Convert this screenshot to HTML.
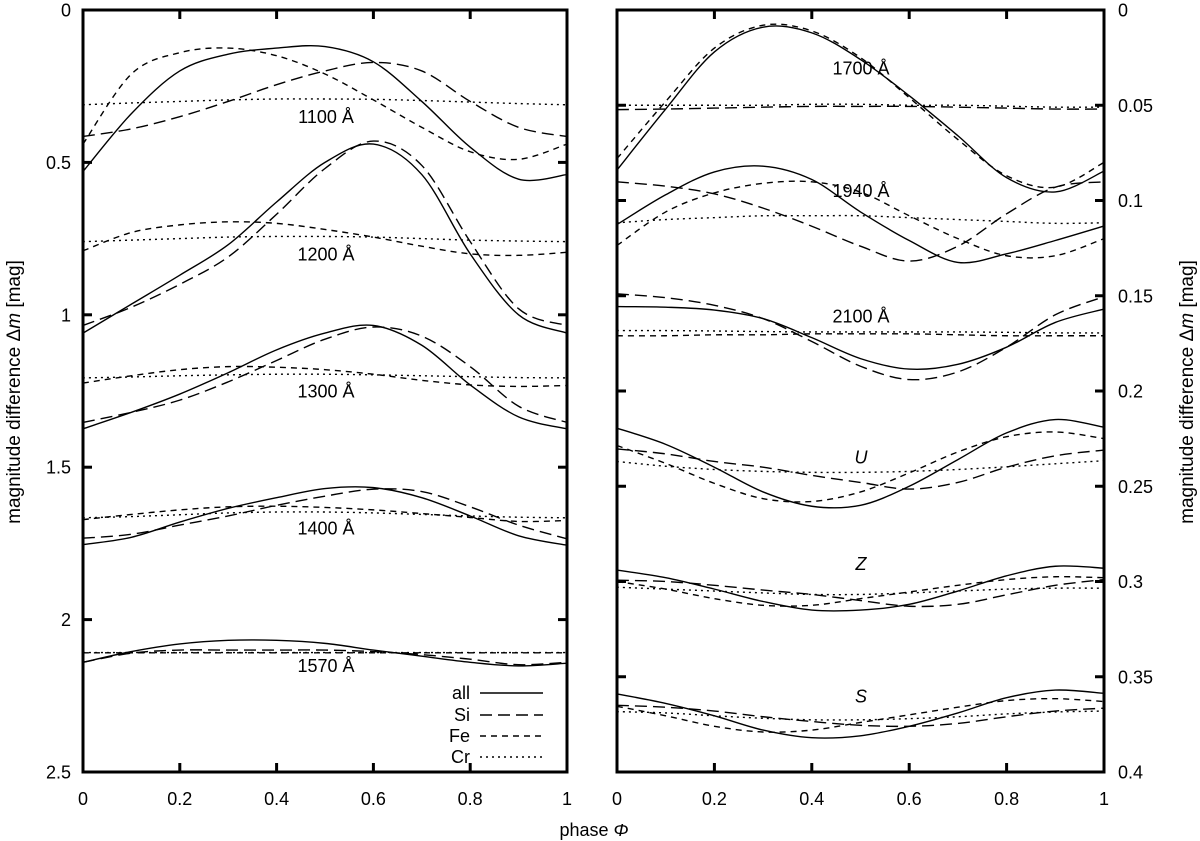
<!DOCTYPE html>
<html><head><meta charset="utf-8">
<style>
html,body{margin:0;padding:0;background:#fff;}
svg{display:block;font-family:"Liberation Sans",sans-serif;}
</style></head>
<body>
<svg id="chart" width="1200" height="841" viewBox="0 0 1200 841" xmlns="http://www.w3.org/2000/svg"></svg>
<script>
const phases = [0,0.1,0.2,0.3,0.4,0.5,0.6,0.7,0.8,0.9,1];
const leftTicks = [0,0.5,1,1.5,2,2.5];
const leftTickLabels = ["0","0.5","1","1.5","2","2.5"];
const rightTicks = [0,0.05,0.1,0.15,0.2,0.25,0.3,0.35,0.4];
const rightTickLabels = ["0","0.05","0.1","0.15","0.2","0.25","0.3","0.35","0.4"];
const xTicks = [0,0.2,0.4,0.6,0.8,1];
const xTickLabels = ["0","0.2","0.4","0.6","0.8","1"];
const componentNames = ["all","Si","Fe","Cr"];

const leftBands = ["1100 Å","1200 Å","1300 Å","1400 Å","1570 Å"];
const leftBandLabelValues = [0.35,0.8,1.25,1.7,2.15];
const left1100 = [
 [0.53,0.34,0.2,0.145,0.125,0.12,0.17,0.3,0.45,0.555,0.54],
 [0.415,0.39,0.35,0.3,0.245,0.2,0.172,0.2,0.3,0.385,0.415],
 [0.44,0.21,0.14,0.125,0.15,0.21,0.295,0.385,0.465,0.49,0.44],
 [0.311,0.305,0.3,0.295,0.292,0.292,0.293,0.297,0.302,0.307,0.311]];
const left1200 = [
 [1.06,0.965,0.87,0.77,0.63,0.5,0.44,0.54,0.8,1.0,1.06],
 [1.035,0.975,0.9,0.81,0.67,0.52,0.43,0.51,0.76,0.98,1.035],
 [0.79,0.73,0.705,0.695,0.7,0.72,0.745,0.775,0.8,0.805,0.795],
 [0.76,0.755,0.75,0.745,0.743,0.743,0.745,0.75,0.755,0.758,0.76]];
const left1300 = [
 [1.374,1.32,1.26,1.19,1.115,1.06,1.035,1.1,1.23,1.335,1.374],
 [1.353,1.32,1.28,1.22,1.15,1.08,1.04,1.07,1.17,1.3,1.353],
 [1.224,1.2,1.18,1.17,1.172,1.18,1.195,1.215,1.23,1.235,1.232],
 [1.207,1.204,1.2,1.197,1.195,1.195,1.197,1.2,1.203,1.206,1.207]];
const left1400 = [
 [1.754,1.73,1.68,1.635,1.6,1.57,1.567,1.6,1.66,1.725,1.756],
 [1.733,1.72,1.69,1.66,1.625,1.595,1.572,1.58,1.63,1.69,1.735],
 [1.672,1.655,1.64,1.63,1.628,1.632,1.64,1.652,1.665,1.678,1.675],
 [1.666,1.662,1.656,1.65,1.647,1.647,1.65,1.655,1.66,1.664,1.666]];
const left1570 = [
 [2.14,2.105,2.08,2.068,2.068,2.078,2.1,2.12,2.14,2.152,2.143],
 [2.14,2.11,2.1,2.1,2.1,2.1,2.105,2.115,2.13,2.148,2.14],
 [2.109,2.109,2.109,2.109,2.109,2.109,2.109,2.109,2.109,2.109,2.109],
 [2.108,2.108,2.108,2.108,2.108,2.108,2.108,2.108,2.108,2.108,2.108]];

const rightBands = ["1700 Å","1940 Å","2100 Å","U","Z","S"];
const rightBandLabelValues = [0.0304,0.0948,0.1607,0.2346,0.2906,0.3602];
const right1700 = [
 [0.084,0.052,0.022,0.009,0.012,0.026,0.045,0.066,0.088,0.0955,0.0846],
 [0.0523,0.052,0.0515,0.051,0.0506,0.0506,0.0506,0.051,0.0515,0.052,0.052],
 [0.078,0.048,0.02,0.008,0.011,0.025,0.046,0.068,0.087,0.093,0.080],
 [0.050,0.050,0.050,0.050,0.0495,0.0495,0.050,0.050,0.0505,0.051,0.051]];
const right1940 = [
 [0.1126,0.097,0.085,0.082,0.089,0.106,0.121,0.1325,0.128,0.121,0.1134],
 [0.0902,0.0925,0.0965,0.104,0.1135,0.124,0.1318,0.124,0.107,0.093,0.0902],
 [0.1236,0.106,0.096,0.091,0.0902,0.0956,0.108,0.12,0.129,0.129,0.12],
 [0.1117,0.110,0.109,0.108,0.108,0.108,0.109,0.110,0.111,0.112,0.1117]];
const right2100 = [
 [0.1557,0.156,0.1575,0.162,0.172,0.183,0.1885,0.186,0.177,0.164,0.157],
 [0.149,0.151,0.155,0.162,0.174,0.187,0.194,0.19,0.177,0.16,0.1505],
 [0.171,0.171,0.1705,0.1705,0.170,0.170,0.170,0.1705,0.171,0.171,0.171],
 [0.1683,0.1683,0.1685,0.1688,0.169,0.169,0.169,0.169,0.1692,0.1695,0.1695]];
const rightU = [
 [0.2195,0.228,0.240,0.253,0.2605,0.26,0.25,0.236,0.222,0.215,0.219],
 [0.2304,0.233,0.237,0.24,0.2443,0.248,0.2515,0.248,0.24,0.234,0.231],
 [0.2286,0.238,0.2485,0.2565,0.258,0.253,0.243,0.232,0.224,0.2215,0.225],
 [0.237,0.2395,0.2412,0.2422,0.2427,0.2427,0.2422,0.2412,0.2398,0.2382,0.2366]];
const rightZ = [
 [0.294,0.298,0.304,0.3105,0.315,0.315,0.312,0.305,0.297,0.292,0.293],
 [0.2993,0.3,0.302,0.3045,0.3068,0.31,0.313,0.312,0.307,0.302,0.299],
 [0.3,0.304,0.309,0.3125,0.3125,0.309,0.3055,0.302,0.299,0.2975,0.298],
 [0.303,0.304,0.305,0.306,0.3068,0.3068,0.306,0.305,0.304,0.3035,0.3035]];
const rightS = [
 [0.359,0.364,0.3705,0.378,0.382,0.381,0.376,0.369,0.361,0.357,0.3587],
 [0.365,0.366,0.368,0.371,0.3735,0.3755,0.376,0.3745,0.371,0.368,0.3665],
 [0.3655,0.3705,0.376,0.379,0.378,0.374,0.370,0.366,0.3625,0.3615,0.363],
 [0.3683,0.369,0.3705,0.3718,0.3726,0.3726,0.372,0.371,0.3695,0.3685,0.368]];

const leftData = [left1100,left1200,left1300,left1400,left1570];
const rightData = [right1700,right1940,right2100,rightU,rightZ,rightS];

const NS = "http://www.w3.org/2000/svg";
const svg = document.getElementById('chart');
const TOP = 10, BOT = 772;
const FS = 18;
const dashes = ["", "12,6", "6,5", "2,4"];
function mk(tag, attrs, parent){ const e=document.createElementNS(NS,tag); for(const k in attrs) e.setAttribute(k,attrs[k]); (parent||svg).appendChild(e); return e; }

function panel(x0,x1,ymax,name){
  const g = mk('g',{});
  
  
  return {g, x:p=>x0+p*(x1-x0), y:v=>TOP+v/ymax*(BOT-TOP), x0, x1};
}
function smooth(pts){
  let d = "M"+pts[0][0].toFixed(2)+","+pts[0][1].toFixed(2);
  for(let i=0;i<pts.length-1;i++){
    const p0=pts[Math.max(i-1,0)], p1=pts[i], p2=pts[i+1], p3=pts[Math.min(i+2,pts.length-1)];
    const c1=[p1[0]+(p2[0]-p0[0])/6, p1[1]+(p2[1]-p0[1])/6];
    const c2=[p2[0]-(p3[0]-p1[0])/6, p2[1]-(p3[1]-p1[1])/6];
    d += " C"+c1[0].toFixed(2)+","+c1[1].toFixed(2)+" "+c2[0].toFixed(2)+","+c2[1].toFixed(2)+" "+p2[0].toFixed(2)+","+p2[1].toFixed(2);
  }
  return d;
}
function drawPanel(P, data, bands, labelVals, labelX){
  data.forEach((band,bi)=>{
    band.forEach((series,si)=>{
      const pts = series.map((v,i)=>[P.x(phases[i]), P.y(v)]);
      const path = mk('path',{d:smooth(pts), fill:'none', stroke:'#000', 'stroke-width':1.4, 'stroke-dasharray':dashes[si]}, P.g);
      
      
    });
    const isFilter = bands[bi].length===1;
    const t = mk('text',{x:labelX, y:P.y(labelVals[bi])+6.5, 'font-size':FS, 'text-anchor':'middle', 'font-style': isFilter?'italic':'normal'}, P.g);
    t.textContent = bands[bi];
    
    
  });
}
function frame(P, ticks){
  mk('rect',{x:P.x0, y:TOP, width:P.x1-P.x0, height:BOT-TOP, fill:'none', stroke:'#000', 'stroke-width':3}, P.g);
  ticks.forEach(v=>{
    const y=P.y(v);
    mk('line',{x1:P.x0, x2:P.x0+9, y1:y, y2:y, stroke:'#000','stroke-width':3}, P.g);
    mk('line',{x1:P.x1-9, x2:P.x1, y1:y, y2:y, stroke:'#000','stroke-width':3}, P.g);
  });
  xTicks.forEach((p,i)=>{
    const x=P.x(p);
    mk('line',{x1:x,x2:x,y1:TOP,y2:TOP+9,stroke:'#000','stroke-width':3},P.g);
    mk('line',{x1:x,x2:x,y1:BOT-9,y2:BOT,stroke:'#000','stroke-width':3},P.g);
    const t=mk('text',{x:x,y:BOT+33,'font-size':FS,'text-anchor':'middle'},P.g);
    t.textContent=xTickLabels[i];
    
    
  });
}

const L = panel(83,567,2.5,'left-panel');
drawPanel(L, leftData, leftBands, leftBandLabelValues, 326);
frame(L, leftTicks);
leftTicks.forEach((v,i)=>{
  const t=mk('text',{x:L.x0-12,y:L.y(v)+6.5,'font-size':FS,'text-anchor':'end'},L.g);
  t.textContent=leftTickLabels[i];
  
  
});

const R = panel(617,1104,0.4,'right-panel');
drawPanel(R, rightData, rightBands, rightBandLabelValues, 861);
frame(R, rightTicks);
rightTicks.forEach((v,i)=>{
  const t=mk('text',{x:R.x1+14,y:R.y(v)+6.5,'font-size':FS,'text-anchor':'start'},R.g);
  t.textContent=rightTickLabels[i];
  
  
});

// legend
const lg = mk('g',{});


const legendY = [693,715,736,757];
componentNames.forEach((n,i)=>{
  const t=mk('text',{x:470,y:legendY[i]+6,'font-size':FS,'text-anchor':'end'},lg);
  t.textContent=n;
  
  
  const l=mk('line',{x1:480,x2:543,y1:legendY[i],y2:legendY[i],stroke:'#000','stroke-width':1.4,'stroke-dasharray':dashes[i]},lg);
  
  
});

// axis titles
const yl=mk('text',{x:0,y:0,'font-size':19,'text-anchor':'middle',transform:'translate(20,392) rotate(-90)'});
yl.innerHTML='magnitude difference Δ<tspan font-style="italic">m</tspan> [mag]';


const yr=mk('text',{x:0,y:0,'font-size':19,'text-anchor':'middle',transform:'translate(1193,392) rotate(-90)'});
yr.innerHTML='magnitude difference Δ<tspan font-style="italic">m</tspan> [mag]';


const xl=mk('text',{x:594,y:836,'font-size':FS,'text-anchor':'middle'});
xl.innerHTML='phase <tspan font-style="italic">Φ</tspan>';


</script>
</body></html>
